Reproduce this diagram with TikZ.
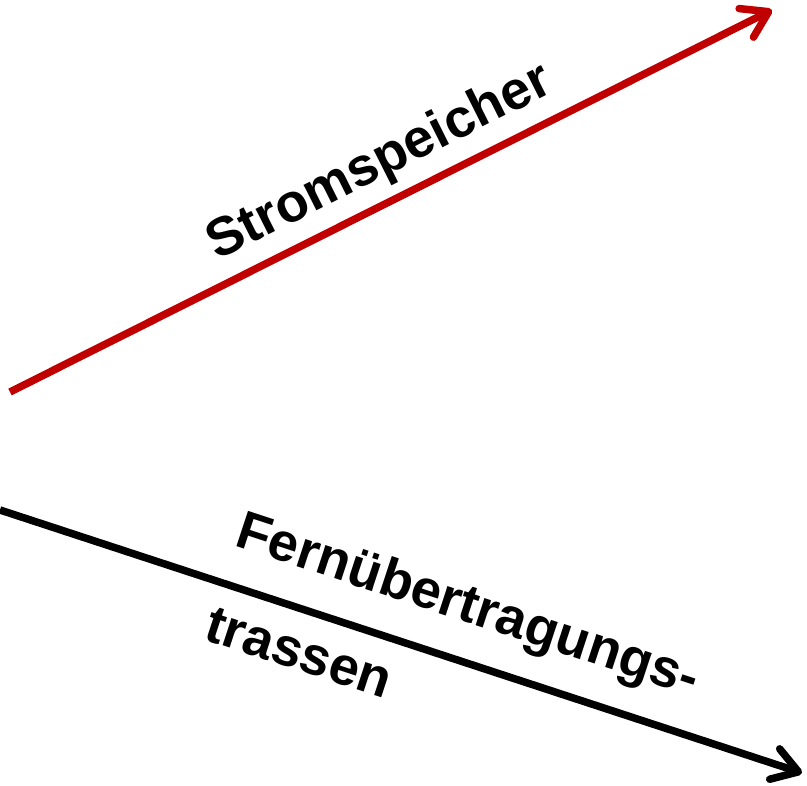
\documentclass[tikz,border=0pt]{standalone}
\usepackage{fontspec}
\setmainfont{Liberation Sans}
\usetikzlibrary{arrows.meta}
\definecolor{speicherred}{RGB}{192,0,0}

\begin{document}
\begin{tikzpicture}[
    x=1pt, y=-1pt,
    flow/.style={line width=7.5pt, -{Straight Barb[length=25pt, width=32pt, line cap=round, line join=round]}},
    label text/.style={font=\fontsize{54}{60}\selectfont\bfseries, anchor=base, inner sep=0pt}
]
    \useasboundingbox (0,0) rectangle (807,786);

    % Ends
    \coordinate (SpStart) at (10,392);
    \coordinate (SpEnd) at (772,10);
    \coordinate (FeStart) at (0,510);
    \coordinate (FeEnd) at (802,773);

    % Arrows
    \draw[flow, speicherred] (SpStart) -- (SpEnd);
    \draw[flow, black] (FeStart) -- (FeEnd);

    % Labels
    \node[label text, rotate=26.66] (Sp) at (386,176) {Stromspeicher};
    \node[label text, rotate=-18.2] (Fe1) at (463,621) {Fernübertragungs-};
    \node[label text, rotate=-18.2] (Fe2) at (294,669) {trassen};
\end{tikzpicture}
\end{document}
